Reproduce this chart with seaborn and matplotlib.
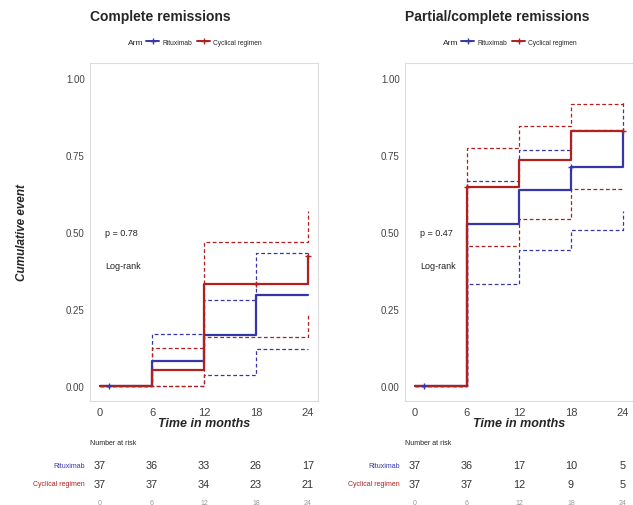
import numpy as np
import pandas as pd
import seaborn as sns
import matplotlib.pyplot as plt
from matplotlib.lines import Line2D

sns.set_style("white")
plt.rcParams['font.family'] = ['Liberation Sans', 'DejaVu Sans']

# data
times = [0, 6, 12, 18, 24]
arms = ["Rituximab", "Cyclical regimen"]
colors = {"Rituximab": "#3636a8", "Cyclical regimen": "#b11f1f"}

# complete remissions
cr_rit = [0, 0.081, 0.167, 0.297, 0.297]
cr_rit_lo = [0, 0, 0.036, 0.12, 0.12]
cr_rit_hi = [0, 0.169, 0.28, 0.432, 0.432]
cr_cyc = [0, 0.053, 0.331, 0.331, 0.423]
cr_cyc_lo = [0, 0, 0.158, 0.158, 0.234]
cr_cyc_hi = [0, 0.123, 0.469, 0.469, 0.569]
cr_cens_t = {"Rituximab": [1], "Cyclical regimen": [18, 24]}
cr_cens_y = {"Rituximab": [0], "Cyclical regimen": [0.331, 0.423]}
cr_risk_rit = [37, 36, 33, 26, 17]
cr_risk_cyc = [37, 37, 34, 23, 21]

# partial/complete remissions
pr_rit = [0, 0.526, 0.637, 0.71, 0.829]
pr_rit_lo = [0, 0.331, 0.441, 0.508, 0.569]
pr_rit_hi = [0, 0.665, 0.767, 0.831, 0.926]
pr_cyc = [0, 0.647, 0.735, 0.827, 0.827]
pr_cyc_lo = [0, 0.455, 0.542, 0.64, 0.64]
pr_cyc_hi = [0, 0.772, 0.845, 0.916, 0.916]
pr_cens_t = {"Rituximab": [1, 18], "Cyclical regimen": [6, 24]}
pr_cens_y = {"Rituximab": [0, 0.71], "Cyclical regimen": [0.647, 0.827]}
pr_risk_rit = [37, 36, 17, 10, 5]
pr_risk_cyc = [37, 37, 12, 9, 5]

panels = [
    dict(title="Complete remissions", p="p = 0.78",
         est={"Rituximab": cr_rit, "Cyclical regimen": cr_cyc},
         lo={"Rituximab": cr_rit_lo, "Cyclical regimen": cr_cyc_lo},
         hi={"Rituximab": cr_rit_hi, "Cyclical regimen": cr_cyc_hi},
         ct=cr_cens_t, cy=cr_cens_y,
         risk={"Rituximab": cr_risk_rit, "Cyclical regimen": cr_risk_cyc}),
    dict(title="Partial/complete remissions", p="p = 0.47",
         est={"Rituximab": pr_rit, "Cyclical regimen": pr_cyc},
         lo={"Rituximab": pr_rit_lo, "Cyclical regimen": pr_cyc_lo},
         hi={"Rituximab": pr_rit_hi, "Cyclical regimen": pr_cyc_hi},
         ct=pr_cens_t, cy=pr_cens_y,
         risk={"Rituximab": pr_risk_rit, "Cyclical regimen": pr_risk_cyc}),
]

W, H = 633, 506
fig = plt.figure(figsize=(W / 100, H / 100), dpi=100)

lefts = [89.6, 404.6]
aw = 228.8
top_px, bot_px = 63.6, 402.4

for i, pan in enumerate(panels):
    L = lefts[i]
    ax = fig.add_axes([L / W, 1 - bot_px / H, aw / W, (bot_px - top_px) / H])

    for arm in arms:
        c = colors[arm]
        for key in ("lo", "hi"):
            d = pd.DataFrame({"t": times, "y": pan[key][arm]})
            sns.lineplot(data=d, x="t", y="y", ax=ax, color=c, lw=0.9,
                         linestyle=(0, (3, 2)), drawstyle="steps-post",
                         estimator=None, zorder=2)
    for arm in arms:
        d = pd.DataFrame({"t": times, "y": pan["est"][arm]})
        sns.lineplot(data=d, x="t", y="y", ax=ax, color=colors[arm], lw=1.6,
                     drawstyle="steps-post", estimator=None, zorder=3)
        cd = pd.DataFrame({"t": pan["ct"][arm], "y": pan["cy"][arm]})
        sns.scatterplot(data=cd, x="t", y="y", ax=ax, marker="+", s=25,
                        color=colors[arm], linewidth=1, zorder=4)

    ax.set_xlim(-1.2, 25.2)
    ax.set_ylim(-0.05, 1.05)
    ax.set_xticks(times)
    ax.set_yticks([0, 0.25, 0.5, 0.75, 1.0])
    ax.set_yticklabels(["0.00", "0.25", "0.50", "0.75", "1.00"])
    ax.tick_params(axis="y", labelsize=7, colors="#444444", length=2, width=0.5, pad=1.5)
    ax.tick_params(axis="x", labelsize=8, colors="#444444", length=2, width=0.5, pad=2)
    for s in ax.spines.values():
        s.set_color("#dcdcdc")
        s.set_linewidth(0.8)
    ax.set_xlabel("Time in months", fontsize=9, fontweight="bold", style="italic",
                  labelpad=0)
    if i == 0:
        ax.set_ylabel("Cumulative event", fontsize=8.5, fontweight="bold",
                      style="italic", labelpad=27)
    else:
        ax.set_ylabel("")
    ax.text(0.6, 0.5, pan["p"], fontsize=6.5, va="center", color="#222222")
    ax.text(0.6, 0.39, "Log-rank", fontsize=6.5, va="center", color="#222222")

    fig.text(L / W, 1 - 17 / H, pan["title"], fontsize=10, fontweight="bold",
             va="center", ha="left")

    # legend
    handles = [Line2D([], [], color=colors[a], lw=1.4, marker="+", markersize=5)
               for a in arms]
    leg = ax.legend(handles, arms, loc="center left", frameon=False, ncol=2,
                    bbox_to_anchor=(146 / aw - 89.6 / aw + 0.0, 1.06),
                    fontsize=4.8, handlelength=2.0, handletextpad=0.4,
                    columnspacing=0.8, borderpad=0, borderaxespad=0)
    ax.text((143 - 89.6) / aw, 1.06, "Arm", transform=ax.transAxes, fontsize=6,
            ha="right", va="center", color="#222222")

    # risk table
    rax = fig.add_axes([L / W, 0, aw / W, 74 / H])
    rax.set_xlim(-1.2, 25.2)
    rax.set_ylim(0, 1)
    rax.axis("off")
    rax.text(-1.2, 0.851, "Number at risk", fontsize=5, va="center", ha="left",
             color="#222222")
    for arm, yy in zip(arms, [0.54, 0.284]):
        rax.text(-1.8, yy, arm, fontsize=5, ha="right", va="center",
                 color=colors[arm])
        for t, n in zip(times, pan["risk"][arm]):
            rax.text(t, yy, str(n), fontsize=7.8, ha="center", va="center",
                     color="#333333")
    for t in times:
        rax.text(t, 0.03, str(t), fontsize=5, ha="center", va="center",
                 color="#999999")

fig.savefig("out.png", dpi=100)
